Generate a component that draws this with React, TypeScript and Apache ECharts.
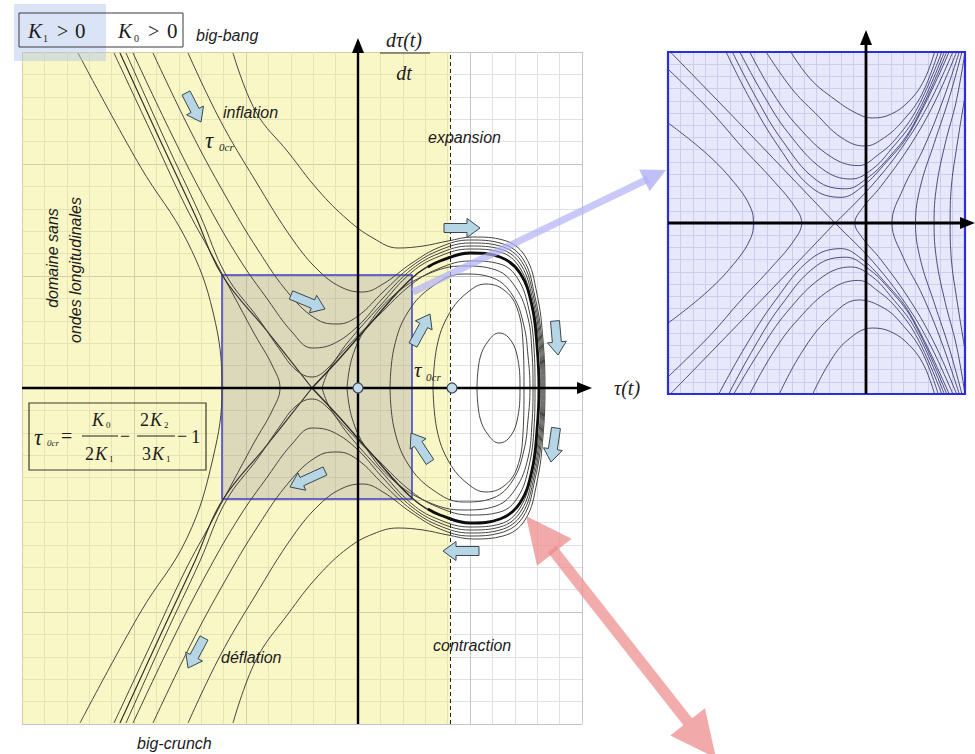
import React, { useEffect, useRef } from 'react';
import * as echarts from 'echarts';

// ---------- main phase portrait: x = tau(t), y = dtau/dt (one major grid cell = 112 units) ----------
const mainX = { min: -336, max: 224, step: 112 };
const mainY = { min: -336, max: 336, step: 112 };
const tauCr = 92; // dashed boundary (tau_0cr)
const fixedPoints = [[0, 0], [94, 0]];
const zoomBox = [[-136, 113], [54, -111]];

const leftOuter = [[-280, 335], [-218, 222], [-171, 147], [-145, 76], [-136, 0], [-145, -70], [-171, -150], [-218, -225], [-278, -335]];
const leftInner = [[-244, 335], [-208, 258], [-173, 183], [-146, 133], [-123, 90], [-103, 53], [-86, 23], [-78, 0], [-86, -23], [-103, -53], [-123, -90], [-146, -133], [-173, -183], [-208, -258], [-244, -335]];
const sepUpper = [[-238, 335], [-198, 248], [-163, 173], [-136, 113], [-91, 57], [-46, 0]];
const sepLower = [[-46, 0], [-91, -57], [-136, -113], [-163, -173], [-198, -248], [-238, -335]];
const outer1 = [[-232, 335], [-193, 248], [-158, 173], [-132, 113], [-100, 70], [-78, 38], [-62, 18], [-46, 11], [-30, 20], [-10, 46], [22, 82], [54, 116], [82, 132], [112, 139], [142, 136], [162, 120], [174, 85], [181, 44], [183, 0], [181, -44], [174, -85], [162, -120], [142, -136], [112, -139], [82, -132], [54, -116], [22, -82], [-10, -46], [-30, -20], [-46, -11], [-62, -18], [-78, -38], [-100, -70], [-132, -113], [-158, -173], [-193, -248], [-232, -335]];
const outer2 = [[-225, 335], [-186, 253], [-150, 183], [-118, 128], [-90, 88], [-66, 56], [-46, 40], [-25, 44], [0, 62], [25, 90], [54, 119], [82, 135], [112, 142], [142, 139], [163, 123], [175, 87], [182, 45], [184, 0], [182, -45], [175, -87], [163, -123], [142, -139], [112, -142], [82, -135], [54, -119], [25, -90], [0, -62], [-25, -44], [-46, -40], [-66, -56], [-90, -88], [-118, -128], [-150, -183], [-186, -253], [-225, -335]];
const outer3 = [[-205, 335], [-168, 258], [-133, 193], [-100, 138], [-68, 93], [-40, 68], [-20, 64], [0, 72], [25, 96], [54, 122], [82, 138], [112, 145], [142, 142], [164, 126], [176, 89], [183, 46], [185, 0], [183, -46], [176, -89], [164, -126], [142, -142], [112, -145], [82, -138], [54, -122], [25, -96], [0, -72], [-20, -64], [-40, -68], [-68, -93], [-100, -138], [-133, -193], [-168, -258], [-205, -335]];
const outer4 = [[-170, 335], [-138, 268], [-103, 208], [-65, 148], [-38, 116], [-15, 100], [5, 96], [25, 104], [54, 125], [82, 141], [112, 148], [142, 145], [165, 129], [177, 91], [184, 47], [186, 0], [184, -47], [177, -91], [165, -129], [142, -145], [112, -148], [82, -141], [54, -125], [25, -104], [5, -96], [-15, -100], [-38, -116], [-65, -148], [-103, -208], [-138, -268], [-170, -335]];
const outer5 = [[-125, 335], [-102, 276], [-70, 236], [-40, 198], [-10, 168], [15, 150], [40, 140], [65, 142], [90, 147], [115, 151], [145, 148], [167, 132], [179, 94], [185, 48], [187, 0], [185, -48], [179, -94], [167, -132], [145, -148], [115, -151], [90, -147], [65, -142], [40, -140], [15, -146], [-10, -160], [-40, -188], [-70, -226], [-102, -272], [-125, -335]];
const homoclinic = [[-46, 0], [-18, -30], [12, -64], [54, -110], [82, -127], [112, -135], [142, -131], [162, -115], [174, -82], [179, -42], [181, 0], [179, 42], [174, 82], [162, 115], [142, 131], [112, 135], [82, 127], [54, 110], [12, 64], [-18, 30], [-46, 0]];
const homoclinicOuterArc = [[70, -121], [82, -127], [112, -135], [142, -131], [162, -115], [174, -82], [179, -42], [181, 0], [179, 42], [174, 82], [162, 115], [142, 131], [112, 135], [82, 127], [70, 121]];
const orbit5 = [[-36, 0], [-28, 20], [-10, 42], [20, 72], [54, 104], [82, 120], [112, 127], [142, 124], [160, 109], [171, 78], [176, 40], [177, 0], [176, -40], [171, -78], [160, -109], [142, -124], [112, -127], [82, -120], [54, -104], [20, -72], [-10, -42], [-28, -20], [-36, 0]];
const orbit4 = [[-11, 0], [-6, 30], [8, 60], [35, 92], [70, 114], [105, 122], [138, 118], [158, 100], [170, 70], [174, 35], [175, 0], [174, -35], [170, -70], [158, -100], [138, -118], [105, -122], [70, -114], [35, -92], [8, -60], [-6, -30], [-11, 0]];
const orbit3 = [[32, 0], [36, 40], [50, 76], [75, 102], [105, 114], [135, 110], [155, 92], [166, 62], [170, 32], [172, 0], [170, -32], [166, -62], [155, -92], [135, -110], [105, -114], [75, -102], [50, -76], [36, -40], [32, 0]];
const orbit2 = [[75, 0], [79, 42], [91, 74], [110, 96], [128, 104], [146, 98], [159, 80], [165, 45], [166, 0], [165, -45], [159, -80], [146, -98], [128, -104], [110, -96], [91, -74], [79, -42], [75, 0]];
const orbit1 = [[119, 0], [122, 30], [131, 48], [141, 55], [151, 50], [159, 33], [162, 0], [159, -33], [151, -50], [141, -55], [131, -48], [122, -30], [119, 0]];

// ---------- inset (magnified neighbourhood of the saddle) ----------
const insetX = { min: -16, max: 8 };
const insetY = { min: -14, max: 14 };
const insetSepA = [[-16, 14.2], [-9.3, 7.2], [-2.5, 0], [0.5, -3.1], [3.2, -6.6], [5.2, -10], [7.1, -14.2]];
const insetSepB = [[-2.5, 0], [0.5, 3.1], [3.2, 6.6], [5.2, 10], [7.1, 14.2]];
const insetSepC = [[-2.5, 0], [-9.3, -7.2], [-16, -14.2]];
const insetU1 = [[-6.2, 14.2], [-4.5, 11.8], [-2.5, 10.1], [-0.8, 9], [0.5, 8.6], [2, 8.9], [3.5, 10], [4.7, 11.7], [5.6, 14.2]];
const insetU2 = [[-8.2, 14.2], [-6, 11], [-4.1, 9], [-2, 7], [-0.1, 6.3], [1.5, 7], [3, 8.4], [4.5, 10.5], [5.9, 14.2]];
const insetU3 = [[-9.5, 14.2], [-7.5, 10.6], [-5.5, 7.9], [-2.8, 5.4], [-0.6, 4.7], [1, 5.6], [2.5, 7], [4.2, 9.5], [6.2, 14.2]];
const insetU4 = [[-10.3, 14.2], [-8.3, 10.5], [-6.3, 7.4], [-3.5, 4.4], [-1.2, 3.6], [0.5, 4.4], [2, 6], [4, 8.7], [6.4, 14.2]];
const insetU5 = [[-10.9, 14.2], [-8.9, 10.3], [-6.8, 6.8], [-4, 3.5], [-1.6, 2.8], [0, 3.6], [1.7, 5.2], [3.8, 8], [6.6, 14.2]];
const insetU6 = [[-11.4, 14.2], [-9.4, 10.2], [-7.1, 6.3], [-4.4, 2.9], [-2, 2.1], [-0.4, 2.9], [1.4, 4.7], [3.6, 7.5], [6.8, 14.2]];
const insetN1 = [[-4.4, -14.2], [-3, -11.5], [-1.5, -9.6], [0.5, -8.6], [2, -8.9], [3.5, -10], [4.7, -11.7], [5.6, -14.2]];
const insetN2 = [[-7.1, -14.2], [-5.2, -10.6], [-3, -7.8], [-0.6, -6.3], [1.5, -7], [3, -8.4], [4.5, -10.5], [5.9, -14.2]];
const insetN3 = [[-9.5, -14.2], [-7.5, -10.6], [-5.5, -7.9], [-2.8, -5.4], [-0.6, -4.7], [1, -5.6], [2.5, -7], [4.2, -9.5], [6.2, -14.2]];
const insetN4 = [[-10.8, -14.2], [-8.6, -10.5], [-6.4, -7.3], [-3.5, -4.4], [-1.2, -3.6], [0.5, -4.4], [2, -6], [4, -8.7], [6.4, -14.2]];
const insetN5 = [[-11.2, -14.2], [-9.1, -10.3], [-6.9, -6.8], [-4, -3.5], [-1.6, -2.8], [0, -3.6], [1.7, -5.2], [3.8, -8], [6.6, -14.2]];
const insetN6 = [[-12, -14.2], [-9.8, -10.2], [-7.3, -6.3], [-4.4, -2.9], [-2, -2.1], [-0.4, -2.9], [1.4, -4.7], [3.6, -7.5], [6.8, -14.2]];
const insetR1 = [[7.4, 14.2], [5.6, 10], [3.6, 6.4], [1.2, 3], [-0.3, 1.2], [-0.9, 0], [-0.3, -1.2], [1.2, -3], [3.6, -6.4], [5.6, -10], [7.4, -14.2]];
const insetR2 = [[7.6, 14.2], [6.2, 10], [4.6, 6], [3, 2.8], [2.1, 0], [3, -2.8], [4.6, -6], [6.2, -10], [7.6, -14.2]];
const insetR3 = [[7.8, 14.2], [6.8, 10.5], [5.5, 6.5], [4.4, 3], [4, 0], [4.4, -3], [5.5, -6.5], [6.8, -10.5], [7.8, -14.2]];
const insetR4 = [[8, 14], [7.3, 10], [6.4, 6.5], [5.7, 3], [5.5, 0], [5.7, -3], [6.4, -6.5], [7.3, -10], [8, -14]];
const insetR5 = [[8.1, 11], [7.3, 6], [6.9, 3], [6.8, 0], [6.9, -3], [7.3, -6], [8.1, -11]];
const insetP1 = [[-16, 8.2], [-12.8, 5.6], [-10.4, 3], [-9.3, 1.2], [-9.1, 0], [-9.3, -1.2], [-10.4, -3], [-12.8, -5.6], [-16, -8.2]];
const insetP2 = [[-16, 12.6], [-12.6, 9.2], [-10, 6.2], [-7.6, 3.6], [-5.8, 1.4], [-5.2, 0], [-5.8, -1.4], [-7.6, -3.6], [-10, -6.2], [-12.6, -9.2], [-16, -12.6]];

const SANS_I = 'italic 16px "Liberation Sans", Arial, sans-serif';
const serifI = (s: number) => `italic ${s}px "Liberation Serif", "Times New Roman", serif`;
const serif = (s: number) => `${s}px "Liberation Serif", "Times New Roman", serif`;

function txt(x: number, y: number, text: string, font: string, opts: any = {}) {
  return {
    type: 'text', x, y, z: 100, silent: true,
    style: { text, font, fill: '#1c1c1c', align: 'left', verticalAlign: 'middle', textAlign: 'left', textVerticalAlign: 'middle', ...opts },
  };
}
function seg(x1: number, y1: number, x2: number, y2: number, stroke: string, lineWidth: number, z = 100) {
  return { type: 'line', z, silent: true, shape: { x1, y1, x2, y2 }, style: { stroke, lineWidth } };
}
function blockArrow(x1: number, y1: number, x2: number, y2: number) {
  const bw = 9, hw = 19, hl = 13;
  const dx = x2 - x1, dy = y2 - y1, L = Math.hypot(dx, dy);
  const ux = dx / L, uy = dy / L, px = -uy, py = ux;
  const nx = x2 - ux * hl, ny = y2 - uy * hl;
  const points = [
    [x1 + (px * bw) / 2, y1 + (py * bw) / 2], [nx + (px * bw) / 2, ny + (py * bw) / 2], [nx + (px * hw) / 2, ny + (py * hw) / 2],
    [x2, y2], [nx - (px * hw) / 2, ny - (py * hw) / 2], [nx - (px * bw) / 2, ny - (py * bw) / 2], [x1 - (px * bw) / 2, y1 - (py * bw) / 2],
  ];
  return { type: 'polygon', z: 95, silent: true, shape: { points }, style: { fill: '#b6d6e6', stroke: '#3a474e', lineWidth: 1 } };
}
function headTri(tx: number, ty: number, fx: number, fy: number, len: number, half: number, fill: string, z = 96) {
  const dx = tx - fx, dy = ty - fy, L = Math.hypot(dx, dy);
  const ux = dx / L, uy = dy / L, px = -uy, py = ux;
  const bx = tx - ux * len, by = ty - uy * len;
  return { type: 'polygon', z, silent: true, shape: { points: [[tx, ty], [bx + px * half, by + py * half], [bx - px * half, by - py * half]] }, style: { fill } };
}

function staticGraphics() {
  const g: any[] = [];
  g.push({ type: 'rect', z: 90, silent: true, shape: { x: 14, y: 4, width: 92, height: 57 }, style: { fill: 'rgba(172,196,236,0.45)' } });
  g.push({ type: 'rect', z: 99, silent: true, shape: { x: 19, y: 13, width: 164, height: 34 }, style: { fill: 'none', stroke: '#3a3a3a', lineWidth: 1 } });
  g.push(txt(28, 31, 'K', serifI(21)), txt(43, 38, '1', serif(10)), txt(57, 31, '>', serif(20)), txt(75, 31, '0', serif(21)));
  g.push(txt(118, 31, 'K', serifI(21)), txt(134, 38, '0', serif(10)), txt(148, 31, '>', serif(20)), txt(167, 31, '0', serif(21)));
  g.push(txt(196, 35, 'big-bang', SANS_I));
  g.push(txt(404, 40, 'dτ(t)', serifI(20), { align: 'center', textAlign: 'center' }));
  g.push(seg(380, 53, 430, 53, '#333', 1));
  g.push(txt(404, 73, 'dt', serifI(20), { align: 'center', textAlign: 'center' }));
  g.push(txt(223, 112, 'inflation', SANS_I));
  g.push(txt(205, 140, 'τ', serifI(23)), txt(219, 147, '0cr', serifI(11)));
  g.push(txt(428, 137, 'expansion', SANS_I));
  g.push({ ...txt(52, 258, 'domaine sans', SANS_I, { align: 'center', textAlign: 'center' }), rotation: Math.PI / 2 });
  g.push({ ...txt(75, 270, 'ondes longitudinales', SANS_I, { align: 'center', textAlign: 'center' }), rotation: Math.PI / 2 });
  g.push(txt(221, 657, 'déflation', SANS_I));
  g.push(txt(433, 645, 'contraction', SANS_I));
  g.push(txt(137, 743, 'big-crunch', SANS_I));
  g.push(txt(414, 370, 'τ', serifI(21)), txt(426, 377, '0cr', serifI(11)));
  g.push(txt(614, 388, 'τ(t)', serifI(20)));
  g.push({ type: 'rect', z: 99, silent: true, shape: { x: 29, y: 403, width: 177, height: 67 }, style: { fill: 'none', stroke: '#3a3a2a', lineWidth: 1.2 } });
  g.push(txt(34, 437, 'τ', serifI(23)), txt(47, 443, '0cr', serifI(9)), txt(61, 436, '=', serif(20)));
  g.push(txt(92, 420, 'K', serifI(18)), txt(106, 425, '0', serif(9)));
  g.push(seg(82, 436, 118, 436, '#222', 1));
  g.push(txt(85, 454, '2', serif(18)), txt(95, 454, 'K', serifI(18)), txt(109, 459, '1', serif(9)));
  g.push(txt(120, 436, '−', serif(18)));
  g.push(txt(140, 420, '2', serif(18)), txt(150, 420, 'K', serifI(18)), txt(164, 425, '2', serif(9)));
  g.push(seg(137, 436, 175, 436, '#222', 1));
  g.push(txt(142, 454, '3', serif(18)), txt(152, 454, 'K', serifI(18)), txt(166, 459, '1', serif(9)));
  g.push(txt(177, 436, '−', serif(18)), txt(191, 436, '1', serif(19)));
  const arrows = [
    [186, 93, 201, 122], [291, 295, 325, 309], [413, 345, 430, 314], [430, 462, 411, 433], [325, 471, 290, 487],
    [444, 228, 480, 228], [555, 321, 558, 355], [556, 428, 551, 462], [479, 551, 443, 551], [204, 638, 188, 668],
  ];
  arrows.forEach((a) => g.push(blockArrow(a[0], a[1], a[2], a[3])));
  g.push(seg(413, 292, 648, 179, 'rgba(176,176,246,0.7)', 7, 94));
  g.push(headTri(666, 170, 413, 292, 24, 12, 'rgba(176,176,246,0.8)'));
  g.push(seg(552, 549, 688, 722, 'rgba(238,140,140,0.72)', 11, 94));
  g.push(headTri(526, 516, 714, 756, 46, 22, 'rgba(238,140,140,0.75)'));
  g.push(headTri(716, 758, 526, 516, 46, 22, 'rgba(238,140,140,0.75)'));
  g.push({ type: 'rect', z: 92, silent: true, shape: { x: 668, y: 52, width: 297, height: 342 }, style: { fill: 'none', stroke: '#2d2de0', lineWidth: 2.2 } });
  return g;
}

function curve(data: number[][], idx: number, width: number, color: string) {
  return { type: 'line', xAxisIndex: idx, yAxisIndex: idx, data, showSymbol: false, symbol: 'none', smooth: 0.4, silent: true, z: 2, lineStyle: { width, color } };
}

export default function App() {
  const ref = useRef<HTMLDivElement>(null);
  useEffect(() => {
    if (!ref.current) return;
    const chart = echarts.init(ref.current, undefined, { renderer: 'svg' });
    const C = '#45453f';
    const mainSeries = [
      curve(leftOuter, 0, 1, C), curve(leftInner, 0, 1, C), curve(sepUpper, 0, 1.2, '#33332e'), curve(sepLower, 0, 1.2, '#33332e'),
      curve(outer1, 0, 1, C), curve(outer2, 0, 1, C), curve(outer3, 0, 1, C), curve(outer4, 0, 1, C), curve(outer5, 0, 1, C),
      curve(orbit5, 0, 1, C), curve(orbit4, 0, 1, C), curve(orbit3, 0, 1, C), curve(orbit2, 0, 1, C), curve(orbit1, 0, 1, C),
      curve(homoclinic, 0, 1.4, '#2a2a26'),
      curve(homoclinicOuterArc, 0, 2.8, '#0d0d0d'),
    ];
    const IC = '#3b3b6e';
    const insetSeries = [
      insetSepA, insetSepB, insetSepC, insetU1, insetU2, insetU3, insetU4, insetU5, insetU6,
      insetN1, insetN2, insetN3, insetN4, insetN5, insetN6, insetR1, insetR2, insetR3, insetR4, insetR5, insetP1, insetP2,
    ].map((d) => curve(d, 1, 0.9, IC));

    const axisCommon = { axisLine: { show: false }, axisTick: { show: false }, axisLabel: { show: false } };
    chart.setOption({
      animation: false,
      grid: [
        { left: 22, top: 52, width: 560, height: 672, show: false },
        { left: 668, top: 52, width: 297, height: 342, show: true, backgroundColor: '#e8e8fb', borderWidth: 0 },
      ],
      xAxis: [
        { type: 'value', gridIndex: 0, min: mainX.min, max: mainX.max, interval: mainX.step, ...axisCommon,
          splitLine: { show: true, lineStyle: { color: '#c3c3cd', width: 1 } },
          minorTick: { show: false, splitNumber: 5 }, minorSplitLine: { show: true, lineStyle: { color: '#e0e0e8', width: 1 } } },
        { type: 'value', gridIndex: 1, min: insetX.min, max: insetX.max, interval: 1, ...axisCommon,
          splitLine: { show: true, lineStyle: { color: '#cdcdee', width: 1 } } },
      ],
      yAxis: [
        { type: 'value', gridIndex: 0, min: mainY.min, max: mainY.max, interval: mainY.step, ...axisCommon,
          splitLine: { show: true, lineStyle: { color: '#c3c3cd', width: 1 } },
          minorTick: { show: false, splitNumber: 5 }, minorSplitLine: { show: true, lineStyle: { color: '#e0e0e8', width: 1 } } },
        { type: 'value', gridIndex: 1, min: insetY.min, max: insetY.max, interval: 1, ...axisCommon,
          splitLine: { show: true, lineStyle: { color: '#cdcdee', width: 1 } } },
      ],
      series: [
        ...mainSeries,
        ...insetSeries,
        { type: 'line', xAxisIndex: 0, yAxisIndex: 0, data: [], z: 5, silent: true,
          markArea: { silent: true, itemStyle: { color: 'rgba(242,232,96,0.36)' }, data: [[{ coord: [mainX.min, mainY.min] }, { coord: [tauCr, mainY.max] }]] } },
        { type: 'line', xAxisIndex: 0, yAxisIndex: 0, data: [], z: 6, silent: true,
          markArea: { silent: true, itemStyle: { color: 'rgba(125,120,150,0.24)', borderColor: '#3b3bd2', borderWidth: 1.5 }, data: [[{ coord: zoomBox[0] }, { coord: zoomBox[1] }]] } },
        { type: 'line', xAxisIndex: 0, yAxisIndex: 0, data: [], z: 8, silent: true,
          markLine: { silent: true, symbol: ['none', 'none'], label: { show: false }, lineStyle: { color: '#222', width: 1, type: [4, 3] },
            data: [[{ coord: [tauCr, mainY.min] }, { coord: [tauCr, mainY.max] }]] } },
      ],
    });

    // axes with arrowheads and fixed points, placed through the chart's own scales
    const px = (gi: number, v: number[]) => chart.convertToPixel({ gridIndex: gi } as any, v) as number[];
    const dyn: any[] = [];
    const axisPair = (gi: number, xr: number[], yr: number[], extX: number, extY: number, w: number) => {
      const h0 = px(gi, [xr[0], 0]), h1 = px(gi, [xr[1], 0]);
      const v0 = px(gi, [0, yr[0]]), v1 = px(gi, [0, yr[1]]);
      const hx = h1[0] + extX, vy = v1[1] - extY;
      dyn.push(seg(h0[0], h0[1], hx - 8, h1[1], '#000', w, 97));
      dyn.push(headTri(hx, h1[1], h0[0], h0[1], 15, 6, '#000', 97));
      dyn.push(seg(v0[0], v0[1], v1[0], vy + 8, '#000', w, 97));
      dyn.push(headTri(v1[0], vy, v0[0], v0[1], 15, 6, '#000', 97));
    };
    axisPair(0, [mainX.min, mainX.max], [mainY.min, mainY.max], 10, 14, 2.4);
    axisPair(1, [insetX.min, insetX.max], [insetY.min, insetY.max], 10, 22, 2.8);
    fixedPoints.forEach((p) => {
      const c = px(0, p);
      dyn.push({ type: 'circle', z: 98, silent: true, shape: { cx: c[0], cy: c[1], r: 5 }, style: { fill: '#c4dbe8', stroke: '#35465a', lineWidth: 1.2 } });
    });
    chart.setOption({ graphic: { elements: [...staticGraphics(), ...dyn] } });
    return () => chart.dispose();
  }, []);
  return <div ref={ref} style={{ position: 'fixed', left: 0, top: 0, width: 975, height: 754, background: '#fff' }} />;
}
